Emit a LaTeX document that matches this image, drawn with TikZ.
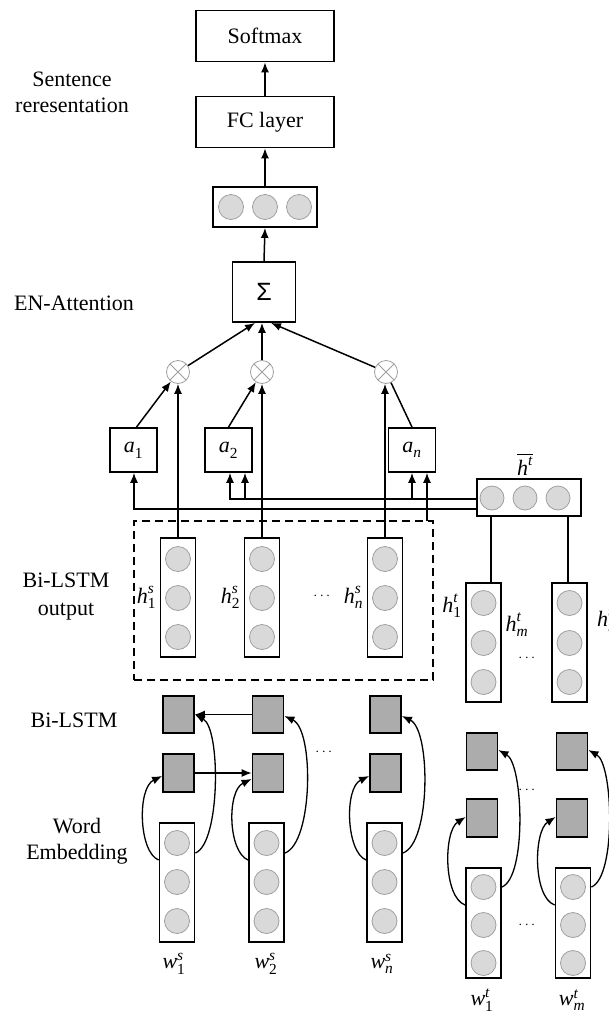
\documentclass[tikz,border=0pt]{standalone}
\usepackage{fontspec}
\usepackage{amsmath}
\setmainfont{Liberation Serif}
\newfontfamily\sigmafont{Liberation Sans}
\usetikzlibrary{arrows.meta}
\newcommand\vlab[3]{$\textit{#1}^{\textit{#2}}_{\textrm{#3}}$}
\begin{document}
\begin{tikzpicture}[x=1pt,y=-1pt,
  every node/.style={font=\fontsize{22}{26}\selectfont},
  box/.style={draw, line width=1.8pt, inner sep=0pt},
  vbox/.style={box, minimum width=35, minimum height=119},
  ball/.style={circle, draw=gray!75, line width=0.8pt, fill=gray!30, minimum size=25, inner sep=0pt},
  sq/.style={draw, line width=1.8pt, fill=gray!65, minimum width=31, minimum height=37, inner sep=0pt},
  arr/.style={-{Latex[length=10,width=8]}, line width=1.5pt},
  tarr/.style={-{Latex[length=10,width=8]}, line width=1.2pt},
  carr/.style={-{Latex[length=10,width=8]}, line width=1.3pt},
  ot/.style={circle, draw=gray!75, line width=0.8pt, minimum size=23, inner sep=0pt,
    path picture={\draw[gray!75,line width=0.8pt]
      (path picture bounding box.north west)--(path picture bounding box.south east)
      (path picture bounding box.north east)--(path picture bounding box.south west);}},
  lab/.style={align=center},
  dotlab/.style={font=\fontsize{15}{18}\selectfont}
]
\useasboundingbox (0,0) rectangle (609,1015);

% left labels
\node[lab] (l1) at (72,92) {Sentence\\reresentation};
\node (l2) at (74,303) {EN-Attention};
\node[lab] (l3) at (66,597) {Bi-LSTM\\[2pt]output};
\node (l4) at (74,720) {Bi-LSTM};
\node[lab] (l5) at (77,841) {Word\\Embedding};

% top stack
\node[box, minimum width=138, minimum height=51] (soft) at (265,36) {Softmax};
\node[box, minimum width=138, minimum height=51] (fc) at (265,122) {FC layer};
\node[box, minimum width=104, minimum height=40] (vec) at (265,207) {};
\foreach \x [count=\i] in {231,265,299} \node[ball] (vec-\i) at (\x,207) {};
\node[box, minimum width=63, minimum height=60] (sig) at (264,292) {\sigmafont\fontsize{25}{28}\selectfont Σ};
\draw[arr] (fc.north) -- (soft.south);
\draw[arr] (vec.north) -- (fc.south);
\draw[arr] (sig.north) -- (vec.south);

% dashed group
\node[draw, line width=2pt, dash pattern=on 8pt off 5pt, minimum width=299, minimum height=159, inner sep=0pt] (grp) at (283.5,600.5) {};

% h^s columns
\foreach \n/\x in {1/178,2/262,n/385}{
  \node[vbox] (hs\n) at (\x,597.5) {};
  \foreach \y [count=\i] in {559,598,637} \node[ball] (hs\n-\i) at (\x,\y) {};
}
\node[anchor=east] (lhs1) at (hs1.west) {\vlab{h}{s}{1}};
\node[anchor=east] (lhs2) at (hs2.west) {\vlab{h}{s}{2}};
\node[anchor=east] (lhsn) at (hsn.west) {\vlab{h}{s}{\textit{n}}};
\node[dotlab] (dhs) at (323,596) {$\cdots$};

% otimes
\node[ot] (o1) at (178,372) {};
\node[ot] (o2) at (262,372) {};
\node[ot] (o3) at (386,372) {};
\draw[arr] (o1) -- ([xshift=-9]sig.south);
\draw[arr] (o2) -- (o2 |- sig.south);
\draw[arr] (o3) -- ([xshift=7]sig.south);
\draw[arr] (hs1.north) -- (hs1.north |- o1.south);
\draw[arr] (hs2.north) -- (hs2.north |- o2.south);
\draw[arr] (hsn.north) -- (hsn.north |- o3.south);

% attention weights
\node[box, minimum width=47, minimum height=44] (a1) at (133.5,450) {\vlab{a}{}{1}};
\node[box, minimum width=47, minimum height=44] (a2) at (228.5,450) {\vlab{a}{}{2}};
\node[box, minimum width=47, minimum height=44] (an) at (412,450) {\vlab{a}{}{\textit{n}}};
\draw[arr] ([xshift=3]a1.north) -- (o1);
\draw[arr] (a2.north) -- (o2);
\draw[line width=1.5pt] (an.north) -- (o3);

% h-bar
\node[box, minimum width=104, minimum height=37] (hbar) at (529,497.5) {};
\foreach \x [count=\i] in {492,525,558} \node[ball, minimum size=24] (hbar-\i) at (\x,498) {};
\node (lhbar) at (525,464) {$\overline{\textit{h}^{\textit{t}}}$};
\coordinate (yu) at (0,499);
\coordinate (yl) at (0,509);
\coordinate (yd) at (0,521);
\draw[tarr] (hbar.west |- yu) -| ([xshift=1.5]a2.south);
\draw[tarr] ([xshift=16.5]a2.south |- yu) -- ([xshift=16.5]a2.south);
\draw[tarr] (an.south |- yu) -- (an.south);
\draw[tarr] (hbar.west |- yl) -| ([xshift=0.5]a1.south);
\draw[tarr] ([xshift=15]an.south |- yd) -- ([xshift=15]an.south);

% h^t columns
\foreach \n/\x in {1/483.5,2/569.5}{
  \node[vbox] (ht\n) at (\x,642.5) {};
  \foreach \y [count=\i] in {603,643,682} \node[ball] (ht\n-\i) at (\x,\y) {};
}
\draw[line width=1.5pt] ([xshift=7.5]ht1.north) -- ([xshift=7.5]ht1.north |- hbar.south);
\draw[line width=1.5pt] ([xshift=-1.5]ht2.north) -- ([xshift=-1.5]ht2.north |- hbar.south);
\node[anchor=east] (lht1) at ([yshift=37]ht1.west) {\vlab{h}{t}{1}};
\node (lhtm) at (517,625) {\vlab{h}{t}{\textit{m}}};
\node[anchor=west, inner sep=0pt] (lhtn) at (597,620) {\vlab{h}{t}{\textit{n}}};
\node[dotlab] (dht) at (528,658) {$\cdots$};

% Bi-LSTM squares (s)
\foreach \n/\x in {1/178.5,2/268,n/385.5}{
  \node[sq] (st\n) at (\x,714.5) {};
  \node[sq, minimum height=38] (sb\n) at (\x,773) {};
}
\draw[tarr] (st2.west) -- (st1.east);
\draw[tarr] (sb1.east) -- (sb2.west);
\node[dotlab] (dsq) at (325,752) {$\cdots$};

% word embeddings (s)
\foreach \n/\x in {1/177,2/266.5,n/384.5}{
  \node[vbox] (ws\n) at (\x,882.5) {};
  \foreach \y [count=\i] in {843,882,921} \node[ball] (ws\n-\i) at (\x,\y) {};
}
\draw[carr] ([yshift=22.5]ws1.west) .. controls +(-20,-8) and +(-25,12) .. ([yshift=-3]sb1.west);
\draw[carr] ([yshift=29.5]ws1.east) .. controls +(25,-10) and +(26,14) .. (st1.east);
\draw[carr] ([yshift=22.5]ws2.west) .. controls +(-20,-8) and +(-25,12) .. ([yshift=-6]sb2.west);
\draw[carr] ([yshift=29.5]ws2.east) .. controls +(28,-10) and +(30,14) .. ([yshift=-1.5]st2.east);
\draw[carr] ([yshift=22.5]wsn.west) .. controls +(-20,-8) and +(-25,12) .. ([yshift=-3]sbn.west);
\draw[carr] ([yshift=29.5]wsn.east) .. controls +(28,-10) and +(29,14) .. ([yshift=-1.5]stn.east);
\node (lws1) at (174,964) {\vlab{w}{s}{1}};
\node (lws2) at (266,964) {\vlab{w}{s}{2}};
\node (lwsn) at (382,964) {\vlab{w}{s}{\textit{n}}};

% Bi-LSTM squares (t)
\foreach \n/\x in {1/482,2/572}{
  \node[sq] (tt\n) at (\x,751.5) {};
  \node[sq, minimum height=38] (tb\n) at (\x,818) {};
}
\node[dotlab] (dtsq) at (528,790) {$\cdots$};

% word embeddings (t)
\foreach \n/\x in {1/483.5,2/573}{
  \node[vbox, minimum height=110] (wt\n) at (\x,923) {};
  \foreach \y [count=\i] in {887,925,963} \node[ball] (wt\n-\i) at (\x,\y) {};
}
\draw[carr] ([yshift=18]wt1.west) .. controls +(-22,-8) and +(-22,14) .. ([yshift=1]tb1.west);
\draw[carr] ([yshift=36]wt1.east) .. controls +(25,-10) and +(25,14) .. ([yshift=1.5]tt1.east);
\draw[carr] ([yshift=18]wt2.west) .. controls +(-22,-8) and +(-22,14) .. ([yshift=1]tb2.west);
\draw[carr] ([yshift=36]wt2.east) .. controls +(25,-10) and +(25,14) .. ([yshift=1.5]tt2.east);
\node[dotlab] (dtw) at (528,925) {$\cdots$};
\node (lwt1) at (482,1000) {\vlab{w}{t}{1}};
\node (lwtm) at (572,1000) {\vlab{w}{t}{\textit{m}}};
\end{tikzpicture}
\end{document}
